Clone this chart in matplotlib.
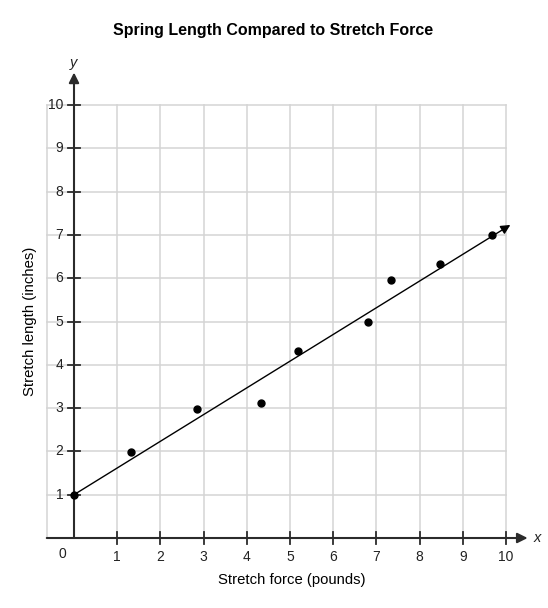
import matplotlib
matplotlib.use('Agg')
import matplotlib.pyplot as plt

plt.rcParams['font.family'] = ['Liberation Sans', 'DejaVu Sans']

# Data
force = [0.0, 1.32, 2.85, 4.32, 5.19, 6.8, 7.33, 8.47, 9.68]
length = [1.0, 1.98, 2.98, 3.12, 4.32, 4.99, 5.96, 6.32, 6.99]
trend_x = [0.0, 10.1]
trend_y = [1.0, 7.23]
ticks = list(range(1, 11))
tick_labels = [str(t) for t in ticks]

fig = plt.figure(figsize=(5.48, 6.08), dpi=100)
# axes placed so that one unit ~ 43 px, origin at (74, 538) px
ax = fig.add_axes([30.8 / 548, 13.7 / 608, 514.1 / 548, 545.6 / 608])
ax.set_xlim(-1.0, 10.9)
ax.set_ylim(-1.3, 11.3)
ax.axis('off')

grid_c = '#d4d4d4'
axis_c = '#2b2b2b'
text_c = '#222222'
x_left = -0.63

# grid
for t in ticks:
    ax.plot([t, t], [0, 10], color=grid_c, lw=1.1, zorder=1)
    ax.plot([x_left, 10], [t, t], color=grid_c, lw=1.1, zorder=1)
ax.plot([x_left, x_left], [0, 10], color=grid_c, lw=1.1, zorder=1)

# axes with arrows
ax.annotate('', xy=(10.5, 0), xytext=(x_left, 0),
            arrowprops=dict(arrowstyle='-|>', color=axis_c, lw=1.5,
                            mutation_scale=15, shrinkA=0, shrinkB=0), zorder=3)
ax.annotate('', xy=(0, 10.75), xytext=(0, 0),
            arrowprops=dict(arrowstyle='-|>', color=axis_c, lw=1.5,
                            mutation_scale=15, shrinkA=0, shrinkB=0), zorder=3)

# tick marks and labels
for t, lab in zip(ticks, tick_labels):
    ax.plot([t, t], [-0.13, 0.13], color=axis_c, lw=1.3, zorder=3)
    ax.plot([-0.14, 0.15], [t, t], color=axis_c, lw=1.3, zorder=3)
    ax.text(t, -0.28, lab, ha='center', va='top', fontsize=10, color=text_c)
    ax.text(-0.25, t, lab, ha='right', va='center', fontsize=10, color=text_c)
ax.text(-0.26, -0.2, '0', ha='center', va='top', fontsize=10, color=text_c)
ax.text(10.72, 0.0, 'x', ha='center', va='center', fontsize=10.5,
        style='italic', color=text_c)
ax.text(0.0, 10.98, 'y', ha='center', va='center', fontsize=10.5,
        style='italic', color=text_c)

# trend line with arrow
ax.annotate('', xy=(trend_x[1], trend_y[1]), xytext=(trend_x[0], trend_y[0]),
            arrowprops=dict(arrowstyle='-|>', color='black', lw=1.0,
                            mutation_scale=14, shrinkA=0, shrinkB=0), zorder=4)

# data points
ax.plot(force, length, 'o', color='black', markersize=5, zorder=5, clip_on=False)

fig.text(273.5 / 548, 1 - 30 / 608, 'Spring Length Compared to Stretch Force',
         ha='center', va='center', fontsize=11.5, fontweight='bold')
fig.text(292 / 548, 1 - 580 / 608, 'Stretch force (pounds)',
         ha='center', va='center', fontsize=10.7)
fig.text(30 / 548, 1 - 321 / 608, 'Stretch length (inches)',
         ha='center', va='center', fontsize=10.7, rotation=90)

fig.savefig('out.png', dpi=100)
